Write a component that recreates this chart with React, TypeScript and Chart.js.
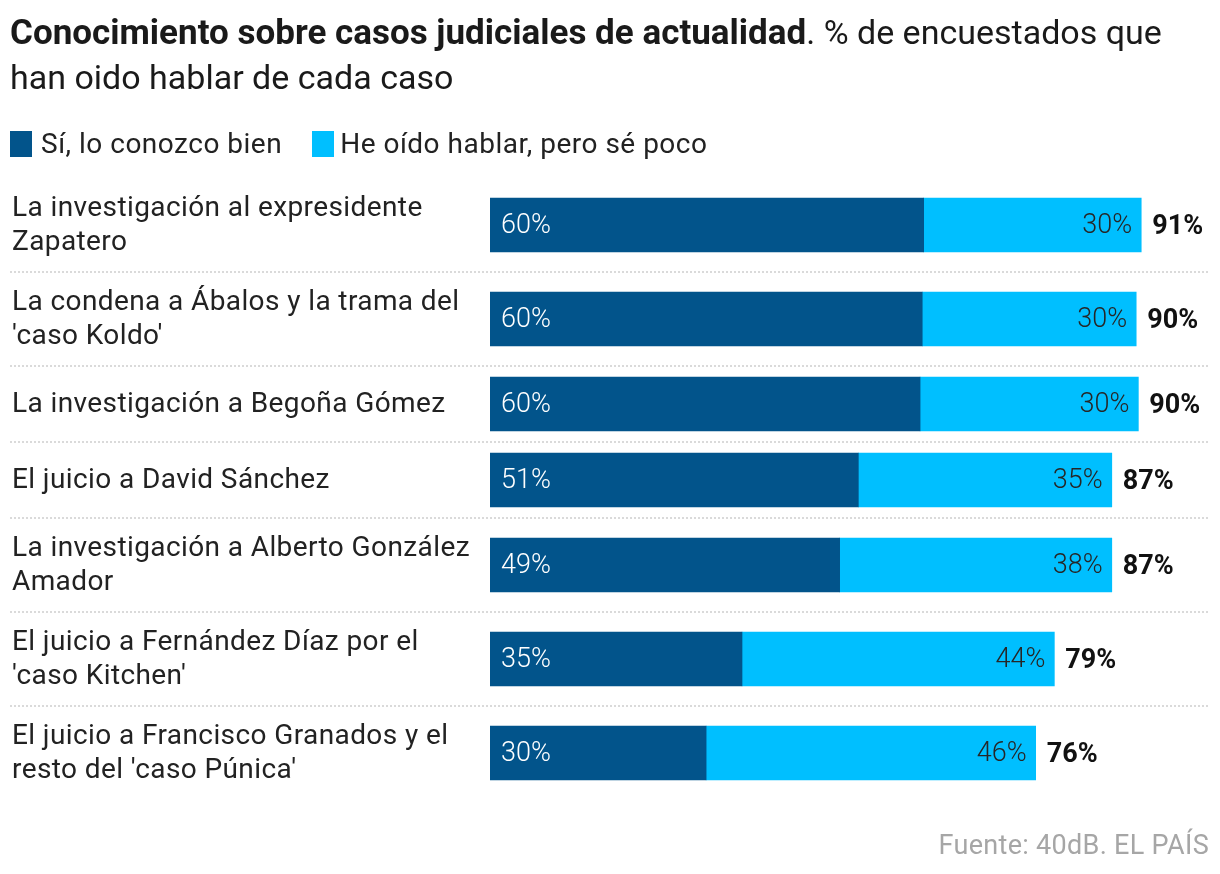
import React, { useEffect, useRef } from "react";
import { Chart, registerables } from "chart.js";

Chart.register(...registerables);

const TITLE_BOLD = "Conocimiento sobre casos judiciales de actualidad";
const TITLE_REST = ". % de encuestados que han oido hablar de cada caso";
const SERIES_NAMES = ["Sí, lo conozco bien", "He oído hablar, pero sé poco"];
const CATEGORIES: string[][] = [
  ["La investigación al expresidente", "Zapatero"],
  ["La condena a Ábalos y la trama del", "'caso Koldo'"],
  ["La investigación a Begoña Gómez"],
  ["El juicio a David Sánchez"],
  ["La investigación a Alberto González", "Amador"],
  ["El juicio a Fernández Díaz por el", "'caso Kitchen'"],
  ["El juicio a Francisco Granados y el", "resto del 'caso Púnica'"],
];
const KNOWN_WELL = [60.4, 60.2, 59.9, 51.3, 48.7, 35.1, 30.1];
const KNOW_LITTLE = [30.3, 29.8, 30.4, 35.3, 37.9, 43.5, 45.9];
const SOURCE = "Fuente: 40dB. EL PAÍS";

const DARK = "#02548b";
const LIGHT = "#00bfff";
const FONT = "Roboto, 'Noto Sans', sans-serif";

// row height depends on number of label lines
const rowUnits = CATEGORIES.map((l) => 58 + 18 * l.length);
const centers: number[] = [];
const bounds: number[] = [];
{
  let acc = 0;
  rowUnits.forEach((h, i) => {
    centers.push(acc + h / 2);
    acc += h;
    if (i < rowUnits.length - 1) bounds.push(acc);
  });
}
const TOTAL_UNITS = rowUnits.reduce((a, b) => a + b, 0);

export default function App() {
  const ref = useRef<HTMLCanvasElement | null>(null);

  useEffect(() => {
    if (!ref.current) return;
    const labelsPlugin = {
      id: "customLabels",
      beforeDatasetsDraw(chart: any) {
        const ctx = chart.ctx;
        const y = chart.scales.y;
        ctx.save();
        ctx.strokeStyle = "#dadada";
        ctx.lineWidth = 2;
        ctx.setLineDash([2, 2]);
        bounds.forEach((b) => {
          const py = Math.round(y.getPixelForValue(b));
          ctx.beginPath();
          ctx.moveTo(10, py);
          ctx.lineTo(1210, py);
          ctx.stroke();
        });
        ctx.restore();
      },
      afterDatasetsDraw(chart: any) {
        const ctx = chart.ctx;
        const m0 = chart.getDatasetMeta(0);
        const m1 = chart.getDatasetMeta(1);
        ctx.save();
        ctx.textBaseline = "middle";
        CATEGORIES.forEach((lines, i) => {
          const e0 = m0.data[i];
          const e1 = m1.data[i];
          const cy = e0.y;
          // category label
          ctx.fillStyle = "#222222";
          ctx.font = `400 28px ${FONT}`;
          (ctx as any).letterSpacing = "0.4px";
          ctx.textAlign = "left";
          const lh = 34;
          const startY = cy - ((lines.length - 1) * lh) / 2;
          lines.forEach((t, k) => ctx.fillText(t, 12, startY + k * lh + 1));
          (ctx as any).letterSpacing = "0px";
          // values
          ctx.font = `300 27px ${FONT}`;
          ctx.fillStyle = "#ffffff";
          ctx.textAlign = "left";
          ctx.fillText(Math.round(KNOWN_WELL[i]) + "%", e0.base + 11, cy + 1);
          ctx.fillStyle = "#262626";
          ctx.textAlign = "right";
          ctx.fillText(Math.round(KNOW_LITTLE[i]) + "%", e1.x - 9, cy + 1);
          ctx.fillStyle = "#111111";
          ctx.textAlign = "left";
          ctx.font = `700 27px ${FONT}`;
          ctx.fillText(
            Math.round(KNOWN_WELL[i] + KNOW_LITTLE[i]) + "%",
            e1.x + 11,
            cy + 2
          );
        });
        ctx.restore();
      },
    };

    const chart = new Chart(ref.current, {
      type: "bar",
      data: {
        datasets: [
          {
            label: SERIES_NAMES[0],
            data: KNOWN_WELL.map((v, i) => ({ x: v, y: centers[i] })),
            backgroundColor: DARK,
            barThickness: 54,
          },
          {
            label: SERIES_NAMES[1],
            data: KNOW_LITTLE.map((v, i) => ({ x: v, y: centers[i] })),
            backgroundColor: LIGHT,
            barThickness: 54,
          },
        ],
      },
      options: {
        indexAxis: "y",
        responsive: false,
        animation: false,
        devicePixelRatio: 1,
        layout: { padding: { left: 490, right: 12, top: 178, bottom: 74 } },
        plugins: { legend: { display: false }, tooltip: { enabled: false } },
        scales: {
          x: { type: "linear", stacked: true, min: 0, max: 100, display: false, offset: false },
          y: {
            type: "linear",
            stacked: true,
            min: 0,
            max: TOTAL_UNITS,
            reverse: true,
            display: false,
            offset: false,
          },
        },
      },
      plugins: [labelsPlugin],
    } as any);
    return () => chart.destroy();
  }, []);

  return (
    <div
      style={{
        position: "fixed",
        left: 0,
        top: 0,
        width: 1220,
        height: 874,
        background: "#ffffff",
        fontFamily: FONT,
        color: "#1a1a1a",
      }}
    >
      <canvas
        ref={ref}
        width={1220}
        height={874}
        style={{ position: "absolute", left: 0, top: 0, width: 1220, height: 874 }}
      />
      <div
        style={{
          position: "absolute",
          left: 10,
          top: 10,
          width: 1200,
          fontSize: 34,
          lineHeight: "44px",
          color: "#1a1a1a",
        }}
      >
        <span style={{ fontWeight: 700, fontSize: 35 }}>{TITLE_BOLD}</span>
        <span>{TITLE_REST}</span>
      </div>
      <div
        style={{
          position: "absolute",
          left: 10,
          top: 127,
          height: 34,
          display: "flex",
          alignItems: "center",
          fontSize: 28,
          letterSpacing: "0.5px",
          lineHeight: "34px",
          color: "#222222",
        }}
      >
        <span style={{ width: 22, height: 26, background: DARK, marginRight: 9, display: "inline-block" }} />
        <span style={{ marginRight: 30 }}>{SERIES_NAMES[0]}</span>
        <span style={{ width: 22, height: 26, background: LIGHT, marginRight: 6, display: "inline-block" }} />
        <span>{SERIES_NAMES[1]}</span>
      </div>
      <div
        style={{
          position: "absolute",
          right: 11,
          top: 828,
          fontSize: 27,
          letterSpacing: "0.3px",
          lineHeight: "34px",
          color: "#a6a6a6",
        }}
      >
        {SOURCE}
      </div>
    </div>
  );
}
